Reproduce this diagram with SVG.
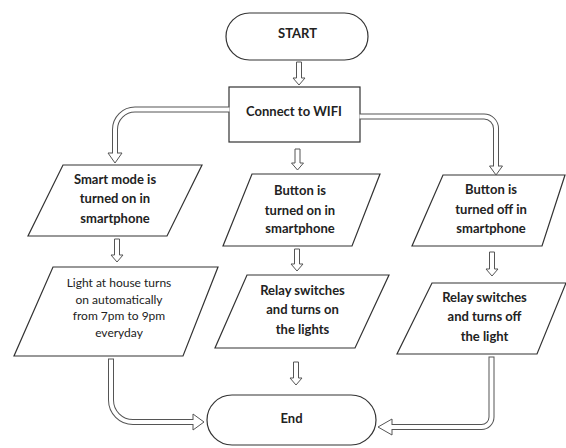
<svg xmlns="http://www.w3.org/2000/svg" width="566" height="448" viewBox="0 0 566 448">
  <style>
    .shape { fill: #ffffff; stroke: #333333; stroke-width: 1.2; }
    .label { font-family: Lato, "Liberation Sans", sans-serif; font-size: 13px; font-weight: bold; fill: #222222; text-anchor: middle; }
    .small { font-size: 12px; font-weight: normal; }
    .arrow { fill: #ffffff; stroke: #555555; stroke-width: 1; stroke-linejoin: miter; }
    .casing { fill: none; stroke: #555555; stroke-width: 6; }
    .core { fill: none; stroke: #ffffff; stroke-width: 4; }
  </style>
  <rect width="566" height="448" fill="#ffffff"/>

  <!-- nodes -->
  <g id="start">
    <rect class="shape" x="226" y="13" width="142" height="47" rx="23.5" ry="23.5"/>
    <text class="label" x="297.5" y="38">START</text>
  </g>
  <g id="connect-wifi">
    <rect class="shape" x="229" y="87" width="131" height="55"/>
    <text class="label" x="294" y="116">Connect to WIFI</text>
  </g>
  <g id="smart-mode">
    <polygon class="shape" points="63,165 202,165 167,236 28,236"/>
    <text class="label" x="115" y="184">Smart mode is</text>
    <text class="label" x="115" y="203">turned on in</text>
    <text class="label" x="115" y="222.5">smartphone</text>
  </g>
  <g id="button-on">
    <polygon class="shape" points="252,174 380,174 352,246 223,246"/>
    <text class="label" x="300" y="195">Button is</text>
    <text class="label" x="300" y="214.5">turned on in</text>
    <text class="label" x="300" y="233">smartphone</text>
  </g>
  <g id="button-off">
    <polygon class="shape" points="443,175 565,175 542,246 412,246"/>
    <text class="label" x="491" y="194">Button is</text>
    <text class="label" x="491" y="213.5">turned off in</text>
    <text class="label" x="491" y="232.5">smartphone</text>
  </g>
  <g id="auto-light">
    <polygon class="shape" points="53,267 218,267 183,356 14,356"/>
    <text class="label small" x="119" y="287">Light at house turns</text>
    <text class="label small" x="119" y="303.5">on automatically</text>
    <text class="label small" x="119" y="320">from 7pm to 9pm</text>
    <text class="label small" x="119" y="337">everyday</text>
  </g>
  <g id="relay-on">
    <polygon class="shape" points="247,275 389,275 355,348 215,348"/>
    <text class="label" x="302.5" y="294.5">Relay switches</text>
    <text class="label" x="302.5" y="314">and turns on</text>
    <text class="label" x="302.5" y="333.5">the lights</text>
  </g>
  <g id="relay-off">
    <polygon class="shape" points="432,283 566,283 537,354 397,354"/>
    <text class="label" x="484.5" y="301.5">Relay switches</text>
    <text class="label" x="484.5" y="321">and turns off</text>
    <text class="label" x="484.5" y="340.5">the light</text>
  </g>
  <g id="end">
    <rect class="shape" x="207" y="395" width="169" height="50" rx="25" ry="25"/>
    <text class="label" x="291.5" y="423">End</text>
  </g>

  <!-- connectors: hollow block arrows -->
  <g id="connectors">
    <!-- straight down arrows -->
    <polygon class="arrow" points="296.5,62 301.5,62 301.5,78 305,78 299,85 293,78 296.5,78"/>
    <polygon class="arrow" points="295,149 300,149 300,163 303.5,163 297.5,170 291.5,163 295,163"/>
    <polygon class="arrow" points="114.5,239 119.5,239 119.5,255 123,255 117,262 111,255 114.5,255"/>
    <polygon class="arrow" points="294.5,249 299.5,249 299.5,264 303,264 297,271 291,264 294.5,264"/>
    <polygon class="arrow" points="293.5,362 298.5,362 298.5,378 302,378 296,385 290,378 293.5,378"/>
    <polygon class="arrow" points="489.5,252 494.5,252 494.5,269 498,269 492,276 486,269 489.5,269"/>

    <!-- WIFI to smart mode -->
    <path class="casing" d="M229,109.5 H135 A20,20 0 0 0 115,129.5 V153"/>
    <polygon class="arrow" points="108,153 122,153 115,163"/>
    <path class="core" d="M229.5,109.5 H135 A20,20 0 0 0 115,129.5 V154"/>

    <!-- WIFI to button off -->
    <path class="casing" d="M360,116.5 H484 A12,12 0 0 1 496,128.5 V166"/>
    <polygon class="arrow" points="489.5,166 502.5,166 496,175"/>
    <path class="core" d="M359.5,116.5 H484 A12,12 0 0 1 496,128.5 V167"/>

    <!-- auto light to end -->
    <path class="casing" d="M111,358.5 V400 A22,22 0 0 0 133,422 H193"/>
    <polygon class="arrow" points="193,414 193,430 204,422"/>
    <path class="core" d="M111,359.5 V400 A22,22 0 0 0 133,422 H194"/>

    <!-- relay off to end -->
    <path class="casing" d="M491.5,356.5 V417 A10,10 0 0 1 481.5,427 H392"/>
    <polygon class="arrow" points="392,419 392,435 378,427"/>
    <path class="core" d="M491.5,357.5 V417 A10,10 0 0 1 481.5,427 H391"/>
  </g>
</svg>
